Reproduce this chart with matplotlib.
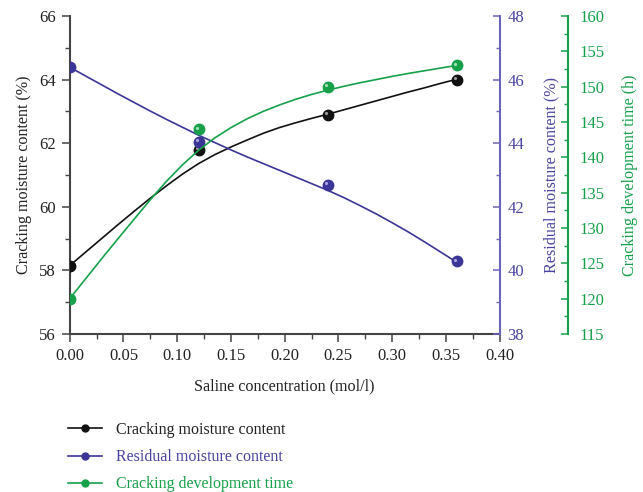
import matplotlib
matplotlib.use("Agg")
import matplotlib.pyplot as plt
from matplotlib.lines import Line2D
from matplotlib.ticker import MultipleLocator, FormatStrFormatter
from matplotlib.transforms import offset_copy

# ---- data ----
saline = [0.0, 0.12, 0.24, 0.36]
cracking_mc = [58.15, 61.8, 62.9, 64.0]
residual_mc = [46.4, 44.05, 42.7, 40.28]
dev_time = [120.0, 144.0, 150.0, 153.0]

# smoothed curves as drawn in the reference
curve_x = [0.0, 0.015, 0.03, 0.045, 0.06, 0.075, 0.09, 0.105, 0.12, 0.135, 0.15, 0.165,
           0.18, 0.195, 0.21, 0.225, 0.24, 0.255, 0.27, 0.285, 0.30, 0.315, 0.33, 0.345, 0.36]
cracking_curve = [58.15, 58.58, 59.01, 59.44, 59.86, 60.27, 60.66, 61.03, 61.36, 61.64, 61.88, 62.10,
                  62.31, 62.49, 62.64, 62.78, 62.91, 63.05, 63.19, 63.33, 63.47, 63.61, 63.74, 63.88, 64.01]
residual_curve = [46.39, 46.11, 45.83, 45.55, 45.28, 45.01, 44.75, 44.50, 44.25, 44.02, 43.79, 43.57,
                  43.36, 43.15, 42.94, 42.73, 42.52, 42.29, 42.04, 41.78, 41.50, 41.21, 40.90, 40.58, 40.26]
devtime_curve = [120.0, 122.85, 125.7, 128.5, 131.25, 134.0, 136.6, 138.95, 141.0, 142.75, 144.2, 145.45,
                 146.5, 147.4, 148.2, 148.9, 149.5, 150.05, 150.55, 151.0, 151.45, 151.87, 152.25, 152.63, 153.0]

labels = ["Cracking moisture content", "Residual moisture content", "Cracking development time"]

BLACK = "#111111"
PURPLE = "#3b3597"
PURPLE_AX = "#6b64b8"
PURPLE_TXT = "#4a44a0"
GREEN = "#16a04a"
AXC = "#444444"
TXT = "#222222"

plt.rcParams['font.family'] = ['Liberation Serif', 'DejaVu Serif']

W, H = 643, 492
fig = plt.figure(figsize=(W / 100, H / 100), dpi=100)
L, R, T, B = 69.7, 499.6, 16, 334
ax = fig.add_axes([L / W, 1 - B / H, (R - L) / W, (B - T) / H])
ax2 = ax.twinx()
ax3 = ax.twinx()
ax3.spines['right'].set_position(('axes', 1.16))

def draw(axis, xc, yc, xs, ys, col, hl):
    axis.plot(xc, yc, color=col, lw=1.2, zorder=2, solid_joinstyle='round')
    axis.plot(xs, ys, ls='none', marker='o', ms=7.5, mfc=col, mec=col, zorder=3)
    tr = offset_copy(axis.transData, fig=fig, x=-1.1, y=1.1, units='points')
    axis.plot(xs, ys, ls='none', marker='o', ms=2.3, mfc=hl, mec='none', transform=tr, zorder=4)

draw(ax, curve_x, cracking_curve, saline, cracking_mc, BLACK, "#9a9a9a")
draw(ax2, curve_x, residual_curve, saline, residual_mc, PURPLE, "#a9a4e0")
draw(ax3, curve_x, devtime_curve, saline, dev_time, GREEN, "#9fe0b5")

ax.set_xlim(0, 0.40)
ax.set_ylim(56, 66)
ax2.set_ylim(38, 48)
ax3.set_ylim(115, 160)

ax.xaxis.set_major_locator(MultipleLocator(0.05))
ax.xaxis.set_minor_locator(MultipleLocator(0.025))
ax.yaxis.set_major_locator(MultipleLocator(2))
ax.yaxis.set_minor_locator(MultipleLocator(1))
ax2.yaxis.set_major_locator(MultipleLocator(2))
ax2.yaxis.set_minor_locator(MultipleLocator(1))
ax3.yaxis.set_major_locator(MultipleLocator(5))
ax3.yaxis.set_minor_locator(MultipleLocator(2.5))
ax.xaxis.set_major_formatter(FormatStrFormatter('%.2f'))

for a in (ax, ax2, ax3):
    a.spines['top'].set_visible(False)

ax.spines['left'].set_color(AXC)
ax.spines['bottom'].set_color(AXC)
ax.spines['left'].set_linewidth(1.5)
ax.spines['bottom'].set_linewidth(1.5)
ax.spines['right'].set_visible(False)
for a in (ax2, ax3):
    a.spines['left'].set_visible(False)
    a.spines['bottom'].set_visible(False)
ax2.spines['right'].set_color(PURPLE_AX)
ax2.spines['right'].set_linewidth(1.5)
ax3.spines['right'].set_color(GREEN)
ax3.spines['right'].set_linewidth(1.5)

ax.tick_params(axis='both', which='major', direction='out', length=6, width=1.1, color=AXC,
               labelsize=12, labelcolor=TXT, pad=4)
ax.tick_params(axis='both', which='minor', direction='out', length=3.5, width=1.0, color=AXC)
ax2.tick_params(axis='y', which='major', direction='in', length=5, width=1.1, color=PURPLE_AX,
                labelsize=12, labelcolor=PURPLE_TXT, pad=5.5)
ax2.tick_params(axis='y', which='minor', direction='in', length=3, width=1.0, color=PURPLE_AX)
ax3.tick_params(axis='y', which='major', direction='in', length=5, width=1.1, color=GREEN,
                labelsize=12, labelcolor=GREEN, pad=8)
ax3.tick_params(axis='y', which='minor', direction='in', length=3, width=1.0, color=GREEN)

ax.set_xlabel("Saline concentration (mol/l)", fontsize=11.6, color=TXT)
ax.xaxis.set_label_coords(0.5, -0.165)
ax.xaxis.label.set_va('center')
ax.set_ylabel("Cracking moisture content (%)", fontsize=11.6, color=TXT)
ax.yaxis.set_label_coords(-0.106, 0.5)
ax2.set_ylabel("Residual moisture content (%)", fontsize=11.6, color=PURPLE_TXT)
ax2.yaxis.set_label_coords(1.12, 0.5)
ax3.set_ylabel("Cracking development time (h)", fontsize=11.6, color=GREEN)
ax3.yaxis.set_label_coords(1.303, 0.5)
for a in (ax, ax2, ax3):
    a.yaxis.label.set_va('center')
    a.yaxis.label.set_ha('center')

handles = [
    Line2D([], [], color=BLACK, lw=1.2, marker='o', ms=5, mfc=BLACK, mec=BLACK),
    Line2D([], [], color=PURPLE, lw=1.2, marker='o', ms=5, mfc=PURPLE, mec=PURPLE),
    Line2D([], [], color=GREEN, lw=1.2, marker='o', ms=5, mfc=GREEN, mec=GREEN),
]
leg = fig.legend(handles, labels, loc='upper left', bbox_to_anchor=(68 / W, 1 - 422 / H),
                 frameon=False, fontsize=11.5, handlelength=2.1, handletextpad=0.9,
                 labelspacing=0.7, borderpad=0, borderaxespad=0)
for txt, c in zip(leg.get_texts(), [TXT, PURPLE_TXT, GREEN]):
    txt.set_color(c)

fig.savefig("out.png", dpi=100)
